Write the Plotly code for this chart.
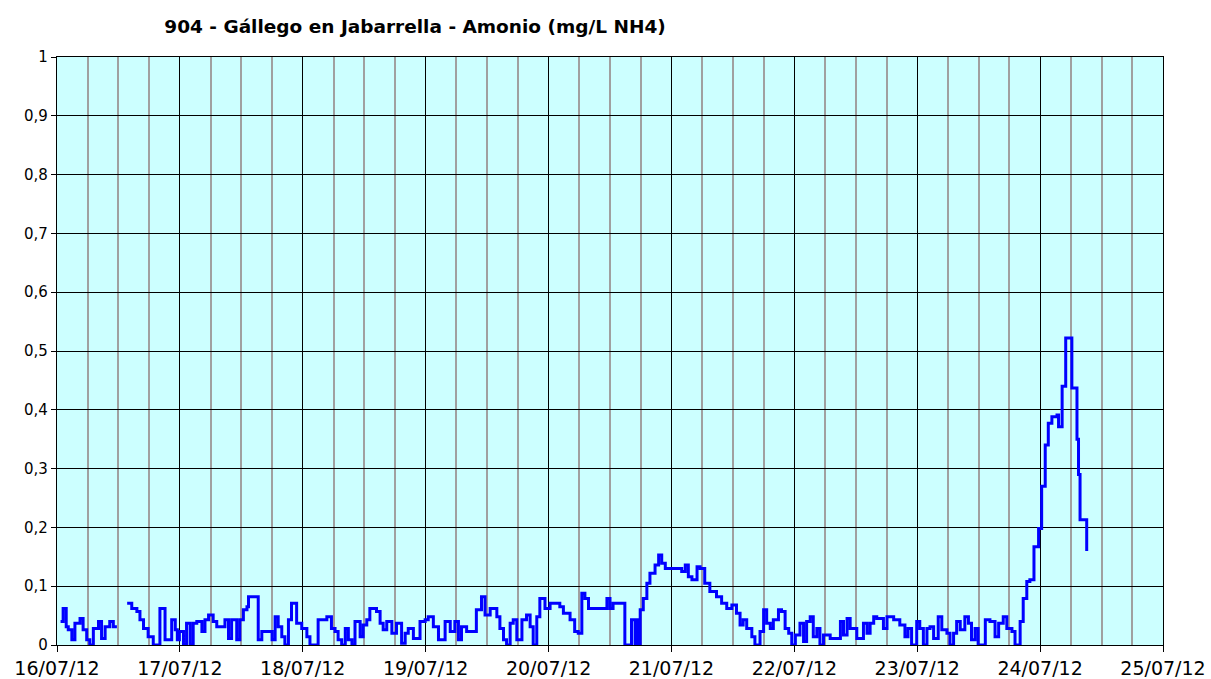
import pandas as pd
import plotly.graph_objects as go

title_text = "904 - Gállego en Jabarrella - Amonio (mg/L NH4)"
start_date = "2012-07-16"

# hours elapsed since 16/07/12 00:00
hours = [0.7, 1.2, 1.8, 2.2, 2.9, 3.5, 4.5, 5.1, 5.8, 6.4, 7.1, 8.1, 8.7, 9.4, 10.3, 11.0, 11.7, 12.0,
         13.7, 14.6, 15.6, 16.2, 16.9, 17.8, 18.8, 20.1, 21.1, 22.4, 23.1, 23.5, 23.9, 24.7, 25.3, 26.0,
         26.6, 27.3, 28.3, 28.9, 29.6, 30.5, 31.2, 32.8, 33.5, 34.1, 35.1, 35.7, 36.4, 37.1, 37.4, 39.3,
         40.0, 42.0, 42.6, 43.2, 43.9, 44.5, 45.2, 45.8, 46.8, 47.8, 48.8, 49.4, 51.0, 52.7, 53.6, 54.3,
         54.9, 55.6, 56.3, 56.9, 57.6, 58.2, 59.2, 59.8, 60.5, 61.1, 62.4, 63.1, 63.7, 64.4, 65.4, 66.3,
         67.3, 68.0, 68.6, 69.6, 70.9, 71.9, 72.5, 73.5, 74.5, 75.8, 76.8, 77.7, 78.4, 79.0, 80.0, 81.9,
         82.9, 83.6, 84.6, 85.9, 86.5, 87.2, 87.8, 88.5, 89.1, 89.8, 90.8, 91.7, 92.4, 93.0, 93.7, 94.3,
         95.3, 96.3, 98.2, 98.9, 100.2, 101.1, 101.8, 102.5, 103.1, 103.8, 107.4, 108.0, 108.6, 110.9,
         112.2, 112.9, 113.2, 113.5, 113.9, 114.5, 115.2, 115.8, 116.8, 117.5, 118.1, 118.8, 122.0, 122.7,
         123.3, 124.0, 125.0, 125.6, 126.5, 127.5, 128.8, 129.8, 130.8, 131.8, 132.7, 133.4, 134.0, 134.7,
         135.7, 136.3, 137.3, 138.0, 138.6, 139.3, 139.9, 140.9, 141.5, 142.2, 142.9, 143.5, 144.2, 145.1,
         145.8, 146.4, 147.1, 147.7, 148.4, 149.0, 149.7, 151.0, 153.0, 153.6, 154.3, 154.9, 156.2, 157.5,
         158.2, 158.8, 159.5, 160.1, 161.4, 162.1, 163.4, 164.6, 165.6, 166.2, 166.9, 167.9, 168.5, 169.2,
         169.9, 170.5, 171.2, 172.1, 172.8, 173.8, 174.4, 175.1, 175.7, 176.4, 177.3, 178.0, 178.6, 179.3,
         179.9, 181.3, 182.2, 183.2, 183.9, 184.8, 185.5, 186.5, 187.1, 188.1, 188.7, 189.4, 190.0, 190.8,
         191.7, 192.3, 193.0, 193.6, 194.3, 195.3, 195.6, 196.3, 197.0, 198.2, 199.2, 199.5, 199.8, 201.1]

amonio = [0.040, 0.062, 0.031, 0.026, 0.009, 0.037, 0.045, 0.026, 0.009, 0.0, 0.028, 0.040, 0.011, 0.031, 0.040, 0.031, 0.031, None,
          0.071, 0.062, 0.057, 0.043, 0.028, 0.014, 0.0, 0.062, 0.009, 0.043, 0.026, 0.009, 0.023, 0.0, 0.037, 0.0,
          0.037, 0.040, 0.023, 0.043, 0.051, 0.040, 0.031, 0.043, 0.011, 0.043, 0.009, 0.043, 0.060, 0.065, 0.082, 0.009,
          0.023, 0.009, 0.048, 0.031, 0.014, 0.0, 0.043, 0.071, 0.037, 0.028, 0.014, 0.0, 0.043, 0.048, 0.028, 0.023,
          0.009, 0.0, 0.028, 0.009, 0.0, 0.040, 0.014, 0.034, 0.043, 0.062, 0.057, 0.037, 0.026, 0.040, 0.020, 0.037,
          0.003, 0.020, 0.028, 0.011, 0.040, 0.043, 0.048, 0.031, 0.009, 0.040, 0.023, 0.040, 0.009, 0.031, 0.023, 0.060,
          0.082, 0.051, 0.062, 0.048, 0.028, 0.009, 0.0, 0.037, 0.043, 0.009, 0.043, 0.051, 0.031, 0.0, 0.048, 0.079,
          0.062, 0.071, 0.065, 0.054, 0.043, 0.023, 0.020, 0.088, 0.079, 0.062, 0.079, 0.062, 0.071, 0.0,
          0.043, 0.0, 0.043, 0.0, 0.060, 0.079, 0.105, 0.122, 0.136, 0.153, 0.139, 0.130, 0.125, 0.136,
          0.116, 0.111, 0.133, 0.130, 0.105, 0.091, 0.082, 0.071, 0.062, 0.068, 0.054, 0.034, 0.043, 0.028,
          0.014, 0.0, 0.023, 0.060, 0.037, 0.028, 0.043, 0.060, 0.057, 0.028, 0.020, 0.0, 0.017, 0.037,
          0.006, 0.040, 0.048, 0.014, 0.028, 0.0, 0.017, 0.011, 0.040, 0.017, 0.045, 0.028, 0.011, 0.037,
          0.020, 0.037, 0.048, 0.045, 0.028, 0.048, 0.043, 0.034, 0.014, 0.028, 0.0, 0.040, 0.028, 0.0,
          0.028, 0.031, 0.011, 0.048, 0.026, 0.020, 0.0, 0.020, 0.040, 0.026, 0.048, 0.037, 0.009, 0.028,
          0.0, 0.043, 0.040, 0.014, 0.037, 0.048, 0.028, 0.023, 0.0, 0.040, 0.079, 0.108, 0.111, 0.167,
          0.198, 0.27, 0.34, 0.377, 0.388, 0.391, 0.371, 0.44, 0.522, 0.437, 0.35, 0.29, 0.213, 0.16]

times = pd.Timestamp(start_date) + pd.to_timedelta(hours, unit="h")

fig = go.Figure()
fig.add_trace(go.Scatter(
    x=times, y=amonio, mode="lines", line=dict(color="#0000FF", width=3, shape="hv"),
    connectgaps=False, showlegend=False, hoverinfo="x+y"))

font_family = "DejaVu Sans"
fig.update_layout(
    width=1211, height=679,
    margin=dict(l=57, r=48, t=57, b=34),
    paper_bgcolor="white", plot_bgcolor="#CCFFFF",
    separators=",.",
    title=dict(text="<b>" + title_text + "</b>", x=415 / 1211, xref="container", xanchor="center",
               y=1 - 27 / 679, yanchor="middle",
               font=dict(family=font_family, size=18.5, color="black")),
    font=dict(family=font_family, size=15, color="black"),
)
fig.update_xaxes(
    type="date", range=["2012-07-16", "2012-07-25"], automargin=False,
    dtick=86400000, tick0="2012-07-16", tickformat="%d/%m/%y",
    showgrid=True, gridcolor="black", gridwidth=1.3,
    minor=dict(dtick=6 * 3600000, tick0="2012-07-16", showgrid=True, gridcolor="#A0A0A0", gridwidth=2),
    ticks="outside", ticklen=6, tickcolor="black", tickwidth=1.3,
    showline=True, linecolor="black", linewidth=1.3, mirror=True,
    zeroline=False, tickfont=dict(size=19),
)
fig.update_yaxes(
    range=[0, 1], dtick=0.1, tick0=0, automargin=False,
    showgrid=True, gridcolor="black", gridwidth=1.3,
    ticks="outside", ticklen=5, tickcolor="black", tickwidth=1.3,
    showline=True, linecolor="black", linewidth=1.3, mirror=True,
    zeroline=False, tickfont=dict(size=15),
)

fig.write_html("out.html", config={"displayModeBar": False},
               post_script="document.body.style.margin='0px';document.body.style.overflow='hidden';")
